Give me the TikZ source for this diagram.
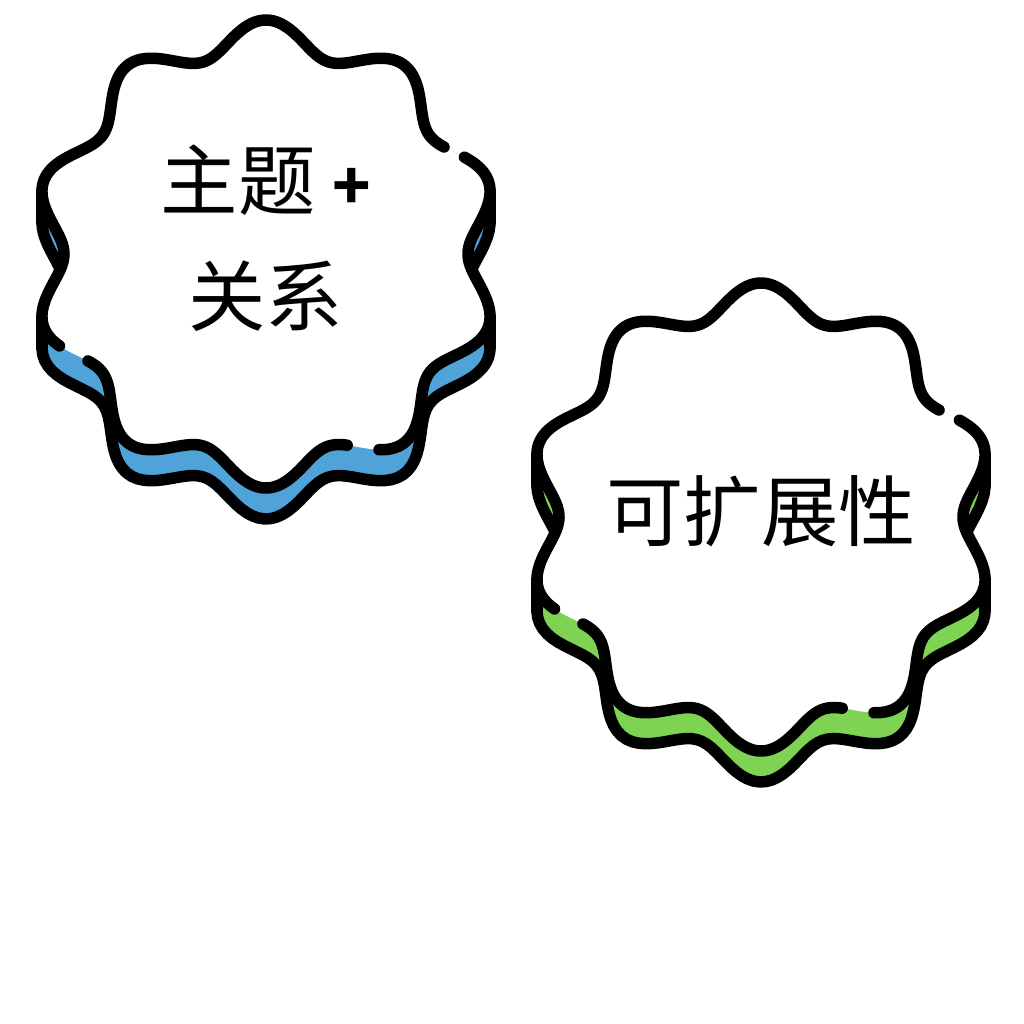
\documentclass[tikz,border=0pt]{standalone}
\usepackage{fontspec}
\newfontfamily\cjk{Noto Sans CJK SC}
\definecolor{rimblue}{HTML}{50A3D8}
\definecolor{rimgreen}{HTML}{7ED352}
\tikzset{
  outline/.style={line width=0.115cm, line cap=round, line join=round},
  badgetext/.style={font=\cjk\fontsize{22pt}{33pt}\selectfont, align=center}
}
% wavy rim with ten lobes
\newcommand\wave[1]{plot[domain=#1, samples=240] (\x:{218-16*cos(10*\x)})}

\begin{document}
\begin{tikzpicture}[x=0.01cm, y=0.01cm]
  \useasboundingbox (0,0) rectangle (1024,1024);
  % left badge
  \begin{scope}[shift={(266,770)}]
    \foreach \s in {0,1,...,31}
      \fill[rimblue, shift={(0,-\s)}] \wave{0:360} -- cycle;
    \draw[outline, shift={(0,-31)}] \wave{0:360} -- cycle;
    \foreach \a in {15.6,164.4,195.6,344.4}
      \draw[outline] (\a:{218-16*cos(10*\a)}) -- ++(0,-31);
    \fill[white] \wave{0:360} -- cycle;
    \draw[outline] \wave{31:204};
    \draw[outline] \wave{211:293};
    \draw[outline] \wave{300:386};
    \node[badgetext] (topic) at (0,16) {主题 {\bfseries\fontsize{18pt}{33pt}\selectfont +}\\关系};
  \end{scope}
  % right badge
  \begin{scope}[shift={(761,507)}]
    \foreach \s in {0,1,...,31}
      \fill[rimgreen, shift={(0,-\s)}] \wave{0:360} -- cycle;
    \draw[outline, shift={(0,-31)}] \wave{0:360} -- cycle;
    \foreach \a in {15.6,164.4,195.6,344.4}
      \draw[outline] (\a:{218-16*cos(10*\a)}) -- ++(0,-31);
    \fill[white] \wave{0:360} -- cycle;
    \draw[outline] \wave{31:204};
    \draw[outline] \wave{211:293};
    \draw[outline] \wave{300:386};
    \node[badgetext] (scale) at (0,6) {可扩展性};
  \end{scope}
\end{tikzpicture}
\end{document}
